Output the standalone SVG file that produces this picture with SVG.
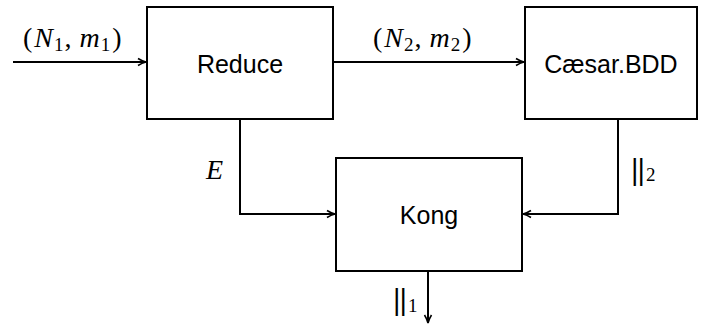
<svg xmlns="http://www.w3.org/2000/svg" width="701" height="326" viewBox="0 0 701 326">
<style>
.box{fill:#fff;stroke:#000;stroke-width:2}
.lbl{font-family:"Liberation Sans",Arial,sans-serif;font-size:25px;fill:#000;text-anchor:middle}
.m{font-family:"Liberation Serif","Times New Roman",serif;font-size:28px;fill:#000}
.mi{font-style:italic}
.sub{font-size:19px}
.bar{font-family:"DejaVu Serif",serif;font-size:28px}
.c{fill:none;stroke:#000;stroke-width:2}
</style>
<defs>
<marker id="ah" viewBox="0 0 10 10" refX="9" refY="5" markerWidth="10" markerHeight="10" markerUnits="userSpaceOnUse" orient="auto">
<path d="M1,1.5 Q5,4 9,5 Q5,6 1,8.5" fill="none" stroke="#000" stroke-width="1.6"/>
</marker>
</defs>
<g id="connectors">
<path class="c" d="M13,62 H146" marker-end="url(#ah)"/>
<path class="c" d="M333,62 H524" marker-end="url(#ah)"/>
<path class="c" d="M240,120 V214 H335" marker-end="url(#ah)"/>
<path class="c" d="M618,119 V214 H523" marker-end="url(#ah)"/>
<path class="c" d="M428,271 V323" marker-end="url(#ah)"/>
<text class="m" x="23" y="47">(<tspan class="mi" dx="2">N</tspan><tspan class="sub" dy="4" dx="1">1</tspan><tspan dy="-4" dx="1">,</tspan><tspan class="mi" dx="8">m</tspan><tspan class="sub" dy="4" dx="1">1</tspan><tspan dy="-4" dx="2">)</tspan></text>
<text class="m" x="373" y="47">(<tspan class="mi" dx="2">N</tspan><tspan class="sub" dy="4" dx="1">2</tspan><tspan dy="-4" dx="1">,</tspan><tspan class="mi" dx="8">m</tspan><tspan class="sub" dy="4" dx="1">2</tspan><tspan dy="-4" dx="2">)</tspan></text>
<text class="m mi" x="206" y="179">E</text>
<text class="m" x="630" y="179"><tspan class="bar" letter-spacing="-3">||</tspan><tspan class="sub" dy="2" dx="3">2</tspan></text>
<text class="m" x="392" y="309"><tspan class="bar" letter-spacing="-3">||</tspan><tspan class="sub" dy="3" dx="3">1</tspan></text>
</g>
<g id="reduce">
<rect class="box" x="147" y="7" width="186" height="112"/>
<text class="lbl" x="240" y="73">Reduce</text>
</g>
<g id="caesar">
<rect class="box" x="525" y="7" width="172" height="112"/>
<text class="lbl" x="611" y="73">Cæsar.BDD</text>
</g>
<g id="kong">
<rect class="box" x="336" y="158" width="186" height="113"/>
<text class="lbl" x="429" y="224">Kong</text>
</g>
</svg>
